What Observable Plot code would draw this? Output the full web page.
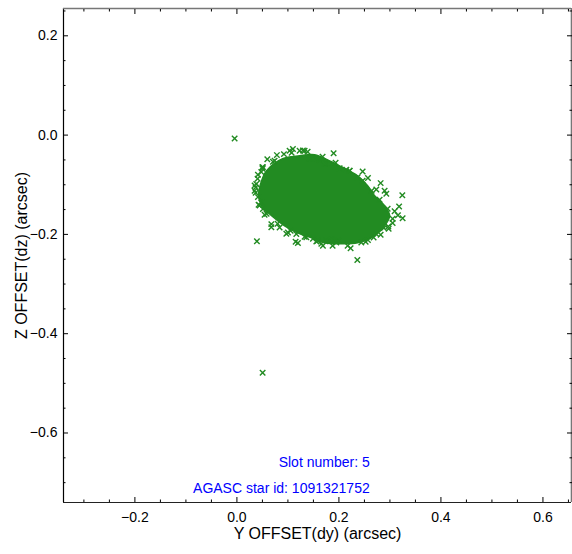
<!DOCTYPE html>
<html>
<head>
<meta charset="utf-8">
<script src="https://cdn.jsdelivr.net/npm/d3@7"></script>
<script src="https://cdn.jsdelivr.net/npm/@observablehq/plot@0.6"></script>
<style>
  html, body { margin: 0; padding: 0; background: #fff; }
  #chart svg { display: block; }
</style>
</head>
<body>
<div id="chart"></div>
<script>
// ---- data ----
const xDomain = [-0.34, 0.656];
const yDomain = [-0.74, 0.255];
const xLabelTicks = [-0.2, 0, 0.2, 0.4, 0.6];
const xMinorTicks = [-0.3, -0.25, -0.15, -0.1, -0.05, 0.05, 0.1, 0.15, 0.25, 0.3, 0.35, 0.45, 0.5, 0.55, 0.65];
const yLabelTicks = [-0.6, -0.4, -0.2, 0, 0.2];
const yMinorTicks = [-0.7, -0.65, -0.55, -0.5, -0.45, -0.35, -0.3, -0.25, -0.15, -0.1, -0.05, 0.05, 0.1, 0.15, 0.25];

// outline of the saturated (fully overplotted) core of the point cloud
const coreX = [0.0425, 0.0465, 0.0582, 0.0896, 0.1229, 0.1524, 0.1818, 0.2053, 0.2367, 0.2563, 0.2700, 0.2896, 0.2994, 0.2896, 0.2700, 0.2367, 0.2014, 0.1720, 0.1465, 0.1190, 0.0935, 0.0680, 0.0484];
const coreY = [-0.1223, -0.0981, -0.0719, -0.0477, -0.0417, -0.0397, -0.0518, -0.0639, -0.0820, -0.1021, -0.1223, -0.1424, -0.1626, -0.1827, -0.2028, -0.2169, -0.2189, -0.2169, -0.2068, -0.1968, -0.1826, -0.1625, -0.1424];

// individually visible offset points (dy, dz)
const dyPts = [-0.0045, 0.0504, 0.0392, 0.2361, 0.1098, 0.1229, 0.1327, 0.0922, 0.0784, 0.0596, 0.0706, 0.0498, 0.0412, 0.1896, 0.1622, 0.1753, 0.2014, 0.2145, 0.2210, 0.2465, 0.2367, 0.2569, 0.2818, 0.2733, 0.2896, 0.2929, 0.3243, 0.3180, 0.3092, 0.3157, 0.3249, 0.3053, 0.2969, 0.2882, 0.2733, 0.2680, 0.2569, 0.2439, 0.2229, 0.1949, 0.1818, 0.1686, 0.1557, 0.1196, 0.1361, 0.1165, 0.1490, 0.1000, 0.0969, 0.0837, 0.0675, 0.0675, 0.0510, 0.0478, 0.0367, 0.0380, 0.0347, 0.0412, 0.0445, 0.0347, 0.0478, 0.0510, 0.1294, 0.1425, 0.1557, 0.1720, 0.1655, 0.1753, 0.1851, 0.1980, 0.1033, 0.0543, 0.1151,
  0.0367, 0.0406, 0.0504, 0.0739, 0.1073, 0.1386, 0.1680, 0.1935, 0.2210, 0.2465, 0.2641, 0.2798, 0.2955, 0.3053, 0.2975, 0.2818, 0.2524, 0.2171, 0.1876, 0.1582, 0.1327, 0.1053, 0.0798, 0.0582, 0.0425];
const dzPts = [-0.0068, -0.4788, -0.2139, -0.2516, -0.0282, -0.0316, -0.0316, -0.0383, -0.0403, -0.0487, -0.0538, -0.0649, -0.0800, -0.0367, -0.0504, -0.0572, -0.0669, -0.0699, -0.0719, -0.0733, -0.0850, -0.0866, -0.0967, -0.1094, -0.1122, -0.1182, -0.1212, -0.1438, -0.1535, -0.1615, -0.1676, -0.1770, -0.1843, -0.1873, -0.1994, -0.2062, -0.2115, -0.2163, -0.2280, -0.2163, -0.2139, -0.2230, -0.2143, -0.2173, -0.2058, -0.1994, -0.2089, -0.1962, -0.1988, -0.1861, -0.1793, -0.1857, -0.1490, -0.1358, -0.1055, -0.0987, -0.1122, -0.1249, -0.1418, -0.1015, -0.0745, -0.0645, -0.0310, -0.0477, -0.0477, -0.0578, -0.2189, -0.2123, -0.2095, -0.2129, -0.0316, -0.1605, -0.2149,
  -0.1162, -0.0880, -0.0678, -0.0518, -0.0356, -0.0336, -0.0437, -0.0558, -0.0719, -0.0920, -0.1122, -0.1303, -0.1484, -0.1686, -0.1887, -0.2008, -0.2149, -0.2230, -0.2230, -0.2129, -0.2048, -0.1927, -0.1786, -0.1585, -0.1404];

const noteText = ["Slot number: 5", "AGASC star id: 1091321752"];
const noteX = [0.2604, 0.2604];
const noteY = [-0.660, -0.712];

const xTitle = "Y OFFSET(dy) (arcsec)";
const yTitle = "Z OFFSET(dz) (arcsec)";

// ---- build ----
const green = "#228B22";
const core = coreX.map((x, i) => ({x, y: coreY[i]}));
const pts = dyPts.map((x, i) => ({x, y: dzPts[i]}));
const notes = noteText.map((t, i) => ({t, x: noteX[i], y: noteY[i]}));
const blank = () => "";

const chart = Plot.plot({
  width: 572,
  height: 554,
  marginLeft: 63,
  marginRight: 1,
  marginTop: 8,
  marginBottom: 52,
  style: {fontFamily: "'Liberation Sans', Arial, Helvetica, sans-serif", fontSize: "14px", background: "#fff", color: "#000"},
  x: {domain: xDomain},
  y: {domain: yDomain},
  marks: [
    Plot.line(core, {x: "x", y: "y", curve: "catmull-rom-closed", fill: green, stroke: green, strokeWidth: 1.5}),
    Plot.dot(pts, {x: "x", y: "y", symbol: "times", r: 2.6, stroke: green, strokeWidth: 1.4}),
    Plot.text(notes, {x: "x", y: "y", text: "t", textAnchor: "end", fill: "#0000ff", fontSize: 14}),
    // frame
    Plot.ruleX([xDomain[0]], {stroke: "#000", strokeWidth: 1.2}),
    Plot.ruleY([yDomain[0]], {stroke: "#222", strokeWidth: 1.2}),
    Plot.ruleY([yDomain[1]], {stroke: "#777", strokeWidth: 1.6}),
    Plot.ruleX([xDomain[1]], {stroke: "#777", strokeWidth: 1.6}),
    // bottom / top axes
    Plot.axisX({anchor: "bottom", ticks: xLabelTicks, tickSize: -5, tickPadding: 15, label: null, fontSize: 14}),
    Plot.axisX({anchor: "bottom", ticks: xMinorTicks, tickSize: -2.5, tickFormat: blank, label: null}),
    Plot.axisX({anchor: "top", ticks: xLabelTicks, tickSize: -5, tickFormat: blank, label: null}),
    Plot.axisX({anchor: "top", ticks: xMinorTicks, tickSize: -2.5, tickFormat: blank, label: null}),
    // left / right axes
    Plot.axisY({anchor: "left", ticks: yLabelTicks, tickSize: -5, tickPadding: 11, label: null, fontSize: 14}),
    Plot.axisY({anchor: "left", ticks: yMinorTicks, tickSize: -2.5, tickFormat: blank, label: null}),
    Plot.axisY({anchor: "right", ticks: yLabelTicks, tickSize: -5, tickFormat: blank, label: null}),
    Plot.axisY({anchor: "right", ticks: yMinorTicks, tickSize: -2.5, tickFormat: blank, label: null}),
    // axis titles
    Plot.text([xTitle], {frameAnchor: "bottom", text: d => d, dy: 36, fontSize: 16}),
    Plot.text([yTitle], {frameAnchor: "left", text: d => d, textAnchor: "middle", dx: -42, rotate: -90, fontSize: 16})
  ]
});
document.getElementById("chart").appendChild(chart);
</script>
</body>
</html>
